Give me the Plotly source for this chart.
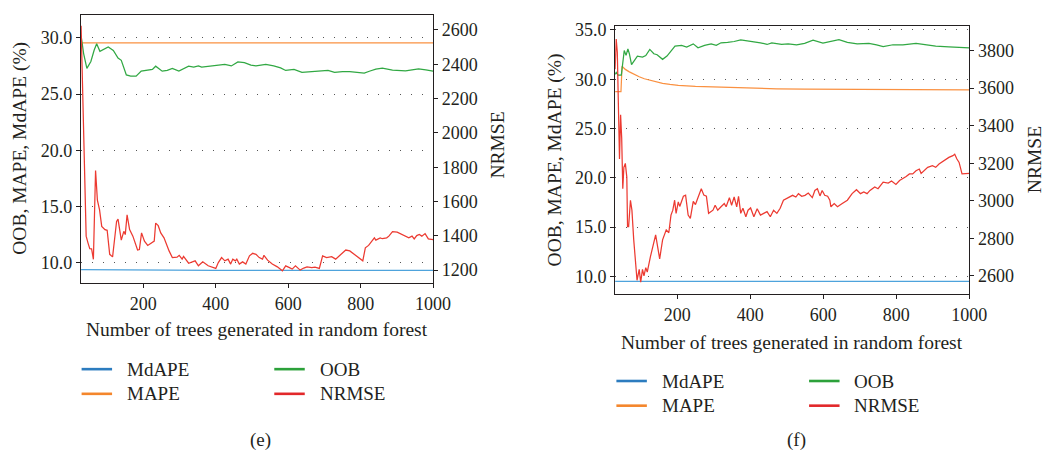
import plotly.graph_objects as go

# ---------------- data: panel (e) ----------------
mdape_e = [(28, 9.40), (200, 9.36), (400, 9.34), (600, 9.34), (800, 9.33), (1000, 9.33)]
mape_e = [(28, 29.56), (500, 29.56), (1000, 29.56)]
oob_e = [(28, 30.2), (35, 28.6), (44, 27.28), (55, 27.9), (64, 28.9), (71, 29.47), (80, 28.8),
         (92, 29.0), (103, 29.18), (117, 28.88), (130, 28.2), (139, 28.0), (146, 27.3), (153, 26.7),
         (165, 26.6), (180, 26.6), (194, 27.04), (210, 27.1), (225, 27.2), (234, 27.48), (252, 27.04),
         (266, 27.1), (280, 27.28), (298, 27.04), (312, 27.3), (325, 27.48), (339, 27.39), (352, 27.5),
         (361, 27.39), (380, 27.45), (398, 27.5), (425, 27.63), (443, 27.5), (461, 27.86), (479, 27.8),
         (497, 27.57), (511, 27.5), (538, 27.63), (560, 27.5), (579, 27.33), (593, 27.1), (616, 27.2),
         (638, 26.93), (660, 27.0), (679, 27.04), (710, 27.1), (728, 26.93), (750, 27.0), (770, 26.99),
         (790, 26.92), (810, 26.87), (826, 27.05), (842, 27.22), (860, 27.3), (888, 27.13), (924, 27.07),
         (960, 27.25), (980, 27.15), (1000, 27.04)]
nrmse_e = [(28, 2625), (35, 1973), (42, 1398), (47, 1359), (52, 1325), (57, 1324), (62, 1263),
           (68, 1781), (73, 1608), (79, 1551), (85, 1455), (94, 1436), (100, 1432), (107, 1292),
           (115, 1277), (126, 1484), (130, 1497), (139, 1375), (146, 1426), (150, 1407), (155, 1522),
           (162, 1436), (171, 1398), (184, 1317), (189, 1320), (195, 1417), (203, 1369), (212, 1344),
           (221, 1359), (230, 1369), (234, 1474), (241, 1459), (248, 1417), (257, 1388), (271, 1312),
           (280, 1273), (293, 1275), (299, 1286), (307, 1264), (311, 1280), (325, 1240), (343, 1254),
           (352, 1225), (364, 1248), (379, 1225), (388, 1219), (400, 1210), (407, 1244), (416, 1273),
           (425, 1254), (434, 1264), (441, 1235), (447, 1264), (454, 1254), (458, 1264), (465, 1235),
           (474, 1248), (483, 1235), (493, 1283), (502, 1298), (511, 1292), (520, 1273), (529, 1264),
           (533, 1286), (543, 1258), (556, 1235), (570, 1219), (584, 1196), (593, 1225), (602, 1216),
           (611, 1206), (620, 1225), (633, 1200), (643, 1212), (652, 1219), (665, 1214), (674, 1217),
           (686, 1210), (695, 1283), (706, 1273), (720, 1278), (731, 1264), (747, 1292), (759, 1317),
           (770, 1312), (779, 1298), (792, 1273), (806, 1254), (813, 1330), (822, 1344), (831, 1369),
           (838, 1388), (842, 1375), (854, 1388), (860, 1383), (872, 1388), (878, 1398), (888, 1424),
           (901, 1421), (919, 1401), (933, 1388), (942, 1398), (948, 1382), (955, 1401), (962, 1408),
           (969, 1398), (978, 1413), (987, 1382), (1000, 1378)]

# ---------------- data: panel (f) ----------------
mdape_f = [(30, 9.50), (500, 9.50), (1000, 9.50)]
mape_f = [(30, 28.74), (46, 28.74), (49, 31.32), (58, 31.0), (69, 30.75), (82, 30.5), (96, 30.25),
          (110, 30.05), (123, 29.92), (140, 29.75), (160, 29.59), (180, 29.48), (203, 29.38),
          (250, 29.28), (293, 29.22), (340, 29.16), (383, 29.12), (430, 29.07), (473, 29.03),
          (550, 29.0), (650, 28.98), (728, 28.97), (850, 28.94), (1000, 28.92)]
oob_f = [(30, 30.5), (33, 30.69), (38, 30.42), (47, 30.42), (55, 32.92), (60, 32.42), (65, 33.09),
         (69, 32.59), (75, 31.49), (82, 31.92), (91, 32.35), (105, 32.25), (114, 32.4), (125, 33.03),
         (136, 32.59), (145, 32.49), (160, 32.02), (172, 32.35), (185, 32.92), (194, 33.36),
         (212, 33.43), (226, 33.26), (244, 33.59), (257, 33.19), (275, 33.43), (293, 33.59),
         (307, 33.45), (320, 33.7), (338, 33.75), (356, 33.83), (374, 34.0), (392, 33.9), (410, 33.85),
         (428, 33.7), (446, 33.53), (459, 33.7), (486, 33.53), (504, 33.6), (527, 33.49), (549, 33.65),
         (572, 33.96), (599, 33.66), (643, 34.03), (666, 33.75), (693, 33.59), (725, 33.63),
         (746, 33.49), (764, 33.32), (791, 33.5), (818, 33.48), (854, 33.63), (872, 33.55),
         (908, 33.36), (944, 33.29), (980, 33.22), (1000, 33.19)]
nrmse_f = [(30, 3700), (33, 3861), (36, 3791), (39, 3546), (42, 3222), (45, 3458), (48, 3336),
           (51, 3064), (54, 3178), (58, 3199), (62, 3126), (64, 2863), (67, 2863), (72, 3003),
           (76, 2950), (81, 2792), (85, 2670), (90, 2577), (96, 2635), (100, 2567), (105, 2635),
           (109, 2600), (114, 2644), (118, 2620), (127, 2705), (141, 2819), (152, 2691), (160, 2792),
           (170, 2845), (177, 2830), (183, 2924), (188, 2950), (193, 3003), (197, 2933), (203, 2994),
           (207, 2970), (217, 3024), (223, 3030), (230, 2924), (236, 2906), (244, 2997), (250, 2980),
           (256, 3012), (266, 3064), (273, 3030), (280, 3024), (286, 2933), (298, 2950), (304, 2976),
           (311, 2950), (320, 2968), (329, 2985), (334, 2968), (343, 3017), (349, 2976), (356, 3020),
           (363, 2968), (368, 3024), (374, 2933), (380, 2960), (388, 2915), (394, 2950), (401, 2962),
           (410, 2915), (419, 2958), (428, 2924), (437, 2933), (446, 2942), (455, 2915), (464, 2950),
           (473, 2933), (482, 2960), (491, 3003), (504, 3015), (516, 3029), (525, 3020), (532, 3038),
           (541, 3024), (550, 3029), (559, 3041), (570, 3017), (577, 3055), (584, 3064), (591, 3026),
           (597, 3055), (604, 3029), (612, 3024), (618, 3003), (621, 2968), (630, 2985), (639, 2968),
           (652, 2985), (666, 3003), (679, 3038), (691, 3059), (702, 3038), (711, 3047), (720, 3038),
           (728, 3055), (741, 3073), (750, 3064), (764, 3099), (778, 3094), (787, 3105), (799, 3087),
           (809, 3108), (818, 3117), (827, 3129), (836, 3143), (845, 3143), (854, 3160), (863, 3169),
           (868, 3146), (877, 3160), (886, 3178), (899, 3187), (908, 3178), (917, 3196), (930, 3213),
           (944, 3231), (955, 3240), (960, 3248), (966, 3222), (972, 3204), (980, 3143), (989, 3143),
           (1000, 3146)]

x_ticks = [200, 400, 600, 800, 1000]
pct_ticks_e = [10, 15, 20, 25, 30]
pct_ticks_f = [10, 15, 20, 25, 30, 35]
nrmse_ticks_e = [1200, 1400, 1600, 1800, 2000, 2200, 2400, 2600]
nrmse_ticks_f = [2600, 2800, 3000, 3200, 3400, 3600, 3800]
series_names = ["MdAPE", "MAPE", "OOB", "NRMSE"]
legend_cols = [["MdAPE", "MAPE"], ["OOB", "NRMSE"]]
x_title = "Number of trees generated in random forest"
y_title = "OOB, MAPE, MdAPE (%)"
y2_title = "NRMSE"
captions = ["(e)", "(f)"]

line_colors = {"MdAPE": "#4ea3dc", "MAPE": "#fa9141", "OOB": "#31a843", "NRMSE": "#ec3a31"}
legend_colors = {"MdAPE": "#2c7cbf", "MAPE": "#f4862c", "OOB": "#2ca13a", "NRMSE": "#e2282a"}
FONT = "Liberation Serif"
TXT = "#231f20"
W, H = 1064, 456

fig = go.Figure()


def add_panel(sets, xa, ya_l, ya_r):
    for name, pts in zip(series_names, sets):
        xs = [p[0] for p in pts]
        ys = [p[1] for p in pts]
        fig.add_trace(go.Scatter(
            x=xs, y=ys, mode="lines", name=name, showlegend=False,
            line=dict(color=line_colors[name], width=1.25),
            xaxis=xa, yaxis=(ya_r if name == "NRMSE" else ya_l)))


add_panel([mdape_e, mape_e, oob_e, nrmse_e], "x", "y", "y2")
add_panel([mdape_f, mape_f, oob_f, nrmse_f], "x2", "y3", "y4")


def px_x(v):
    return v / W


def px_y(v):
    return 1 - v / H


tickfont = dict(family=FONT, size=18, color=TXT)
common_ax = dict(showline=True, linecolor="#231f20", linewidth=1.2, ticks="outside",
                 ticklen=4, tickcolor="#231f20", tickwidth=1, tickfont=tickfont,
                 zeroline=False)

panels = [
    dict(x0=82.3, x1=440.5, yt=9, yb=281, xr=[27.5, 1000], yl=[8.18, 32.04], yr=[1123, 2688],
         pt=pct_ticks_e, nt=nrmse_ticks_e),
    dict(x0=625.7, x1=986, yt=20.7, yb=292, xr=[30, 1000], yl=[8.2, 35.36], yr=[2503, 3928],
         pt=pct_ticks_f, nt=nrmse_ticks_f),
]

layout = dict(width=W, height=H, margin=dict(l=0, r=0, t=0, b=0), autosize=False,
              paper_bgcolor="white", plot_bgcolor="white", showlegend=False,
              font=dict(family=FONT, color=TXT, size=18))

for i, p in enumerate(panels):
    xk = "xaxis" if i == 0 else "xaxis2"
    ylk = "yaxis" if i == 0 else "yaxis3"
    yrk = "yaxis2" if i == 0 else "yaxis4"
    ylid = "y" if i == 0 else "y3"
    xid = "x" if i == 0 else "x2"
    dom_x = [px_x(p["x0"]), px_x(p["x1"])]
    dom_y = [px_y(p["yb"]), px_y(p["yt"])]
    layout[xk] = dict(domain=dom_x, range=p["xr"], tickvals=x_ticks, anchor=ylid,
                      mirror=True, showgrid=False, **common_ax)
    layout[ylk] = dict(domain=dom_y, range=p["yl"], tickvals=p["pt"], tickformat=".1f",
                       anchor=xid, showgrid=True, gridcolor="#555555", gridwidth=1,
                       griddash="1.3px,9.7px", **common_ax)
    layout[yrk] = dict(range=p["yr"], tickvals=p["nt"], overlaying=ylid, side="right",
                       anchor=xid, showgrid=False, **common_ax)

fig.update_layout(**layout)

ann = []
shapes = []
title_font = dict(family=FONT, size=19.5, color=TXT)
# x titles
for xx, yy in [(261, 328), (806, 341)]:
    ann.append(dict(x=px_x(xx), y=px_y(yy), text=x_title, showarrow=False, font=title_font,
                    xref="paper", yref="paper", xanchor="center", yanchor="middle"))
# y titles
for xx, yy, t in [(20, 144, y_title), (506, 141, y2_title), (565, 156, y_title), (1053, 156, y2_title)]:
    ann.append(dict(x=px_x(xx), y=px_y(yy), text=t, showarrow=False, font=title_font, textangle=-90,
                    xref="paper", yref="paper", xanchor="center", yanchor="middle"))
# captions
for xx, t in [(265, captions[0]), (810, captions[1])]:
    ann.append(dict(x=px_x(xx), y=px_y(440), text=t, showarrow=False,
                    font=dict(family=FONT, size=19, color=TXT),
                    xref="paper", yref="paper", xanchor="center", yanchor="middle"))

# legends (two per figure, two columns each)
legend_spots = [dict(x=83, y=368), dict(x=627, y=380)]
col_dx = 196
row_dy = 25
for spot in legend_spots:
    for ci, col in enumerate(legend_cols):
        for ri, name in enumerate(col):
            lx = spot["x"] + ci * col_dx
            ly = spot["y"] + ri * row_dy
            shapes.append(dict(type="line", xref="paper", yref="paper",
                               x0=px_x(lx), x1=px_x(lx + 31), y0=px_y(ly), y1=px_y(ly),
                               line=dict(color=legend_colors[name], width=2.6)))
            ann.append(dict(x=px_x(lx + 44), y=px_y(ly), text=name, showarrow=False,
                            font=dict(family=FONT, size=19, color=TXT),
                            xref="paper", yref="paper", xanchor="left", yanchor="middle"))

fig.update_layout(annotations=ann, shapes=shapes)

fig.write_html("out.html")
